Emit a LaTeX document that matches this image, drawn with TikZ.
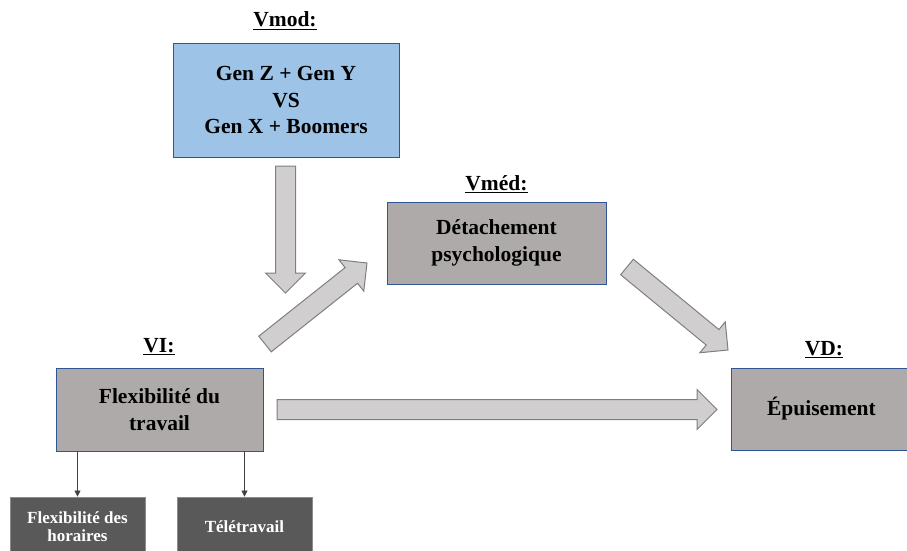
\documentclass[tikz,border=0pt]{standalone}
\usepackage{fontspec}
\setmainfont{Liberation Serif}
\usetikzlibrary{calc,arrows.meta}
\definecolor{boxblue}{HTML}{9DC3E6}
\definecolor{lineblue}{HTML}{2F5597}
\definecolor{boxgrey}{HTML}{AEAAAA}
\definecolor{arrfill}{HTML}{D0CECE}
\definecolor{arrline}{HTML}{7F7F7F}
\definecolor{darkgrey}{HTML}{595959}
\definecolor{darkline}{HTML}{8C8C8C}
\tikzset{
	lbl/.style={anchor=base,font=\fontsize{21.5}{26}\selectfont\bfseries},
	bluebox/.style 2 args={draw=lineblue,fill=boxblue,line width=0.8pt,minimum width=#1,minimum height=#2,inner sep=0pt,align=center,font=\fontsize{21.5}{26.5}\selectfont\bfseries},
	greybox/.style 2 args={draw=lineblue,fill=boxgrey,line width=0.8pt,minimum width=#1,minimum height=#2,inner sep=0pt,align=center,font=\fontsize{21.5}{26.5}\selectfont\bfseries},
	darkbox/.style={draw=darkline,fill=darkgrey,text=white,line width=0.8pt,minimum width=135,minimum height=60,inner sep=0pt,align=center,font=\fontsize{17}{18}\selectfont\bfseries},
	fatarrow/.style={draw=arrline,fill=arrfill,line width=1pt,line join=miter},
	thinarrow/.style={draw=black!75,line width=0.6pt,-{Triangle[length=6pt,width=6pt]}}
}
% block arrow from tail to tip
\newcommand{\fatarr}[2]{%
	\path[fatarrow] let \p1=($(#2)-(#1)$), \n1={atan2(\y1,\x1)}, \n2={veclen(\x1,\y1)} in
		[shift={(#1)}, rotate=\n1]
		(0,-10) -- (\n2-20,-10) -- (\n2-20,-20) -- (\n2,0) -- (\n2-20,20) -- (\n2-20,10) -- (0,10) -- cycle;}

\begin{document}
\begin{tikzpicture}[x=1pt,y=1pt]
	\useasboundingbox (0,0) rectangle (907,550);
	\clip (0,0) rectangle (907,550);

	\node [bluebox={226}{114}] (mod) at (286,450) {Gen Z + Gen Y\\VS\\Gen X + Boomers};
	\node [greybox={219}{82}] (med) at (496.5,307) {Détachement\\psychologique};
	\node [greybox={207}{83}] (vi) at (159.5,140.5) {Flexibilité du\\travail};
	\node [greybox={180}{82},anchor=west] (vd) at (731,141) {Épuisement};

	\node [lbl] (modlbl) at (285,523) {\underline{Vmod:}};
	\node [lbl] (medlbl) at (496.5,360) {\underline{Vméd:}};
	\node [lbl] (vilbl) at (159,198) {\underline{VI:}};
	\node [lbl] (vdlbl) at (824,195) {\underline{VD:}};

	\node [darkbox] (hor) at (77.5,23) {Flexibilité des\\horaires};
	\node [darkbox] (tele) at (244.5,23) {Télétravail};

	\draw [thinarrow] (vi.south -| hor) -- (hor.north);
	\draw [thinarrow] (vi.south -| tele) -- (tele.north);

	\coordinate (modtail) at (285.5,384);
	\coordinate (modtip) at (285.5,257);
	\coordinate (vitail) at (265,206);
	\coordinate (vitip) at (367,287);
	\coordinate (medtail) at (627,283);
	\coordinate (medtip) at (728,200);
	\coordinate (dirtail) at (277,140.5);
	\coordinate (dirtip) at (717,140.5);

	\fatarr{modtail}{modtip}
	\fatarr{vitail}{vitip}
	\fatarr{medtail}{medtip}
	\fatarr{dirtail}{dirtip}
\end{tikzpicture}
\end{document}
